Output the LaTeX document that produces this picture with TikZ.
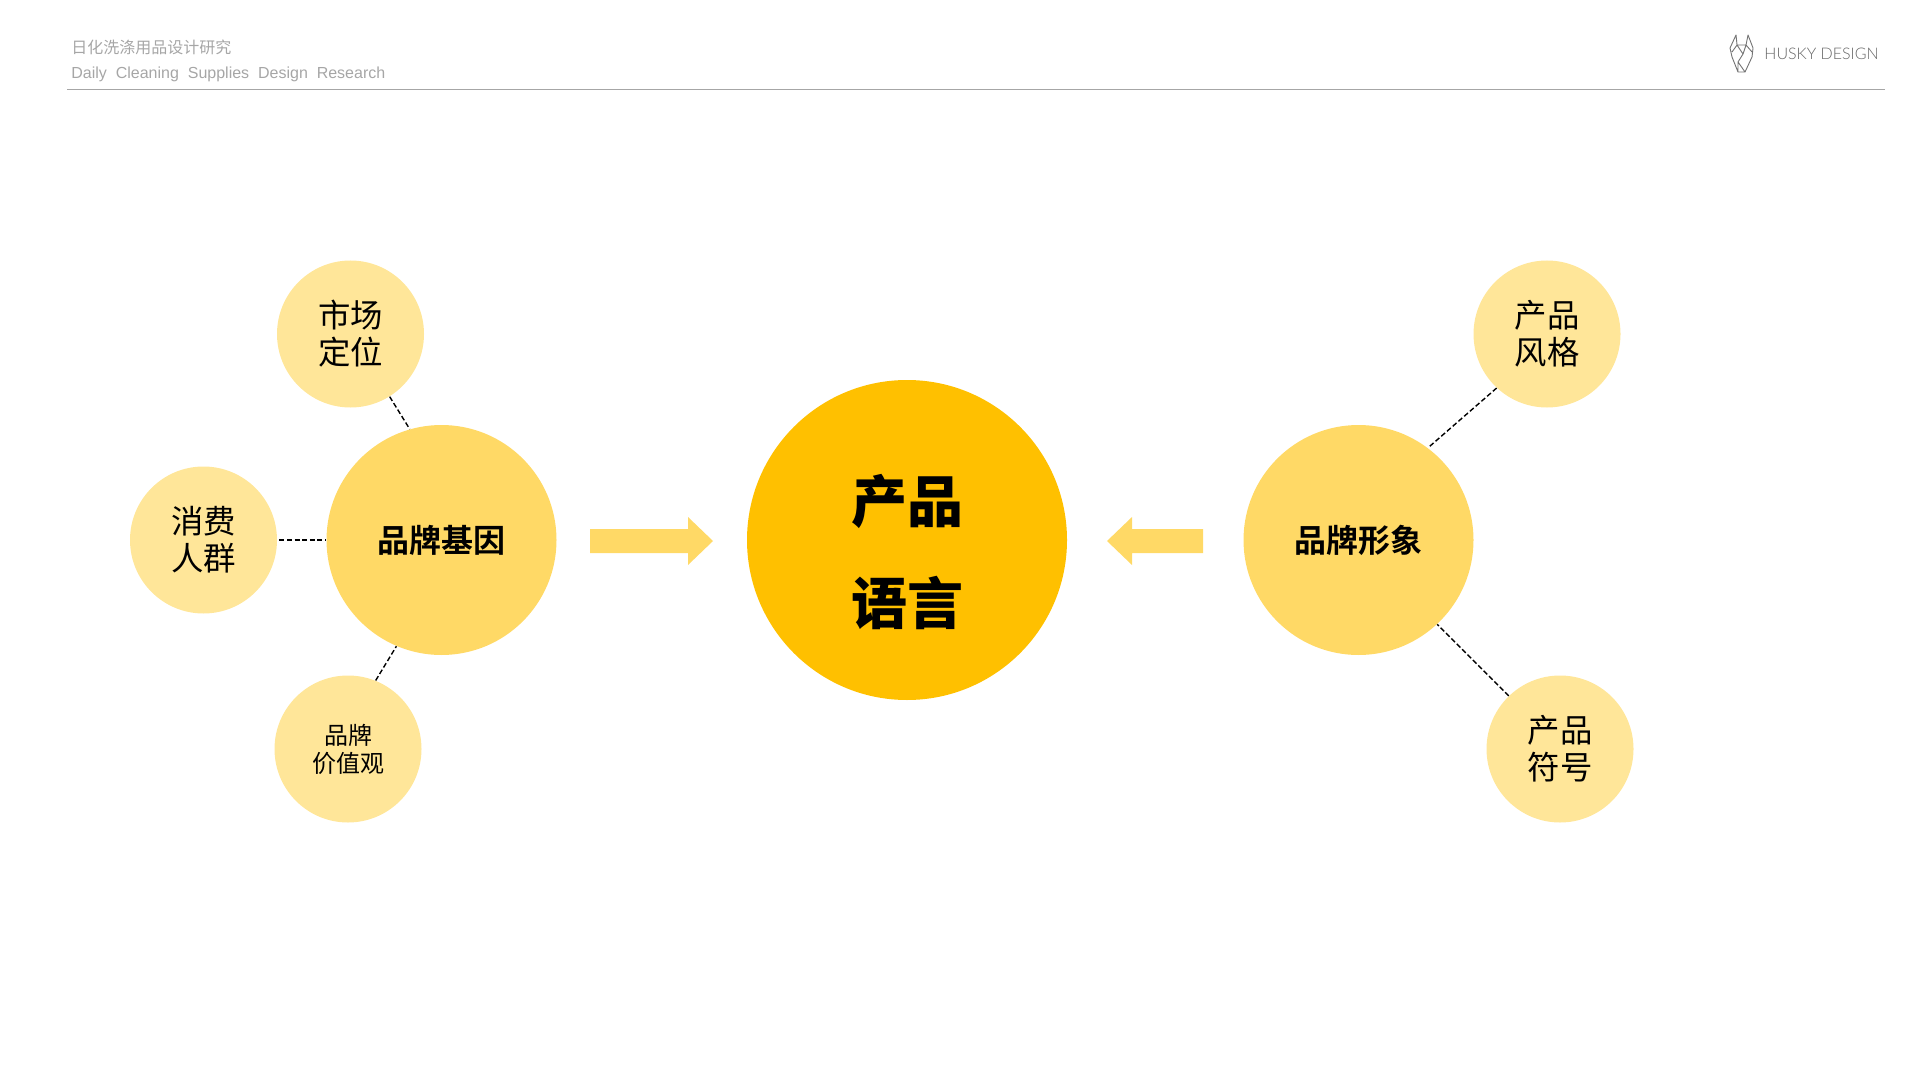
\documentclass[tikz,border=0pt]{standalone}
\usepackage{fontspec}
\usepackage{xcolor}
\setmainfont{Liberation Sans}
\newfontfamily\cjk[BoldFont={Noto Sans CJK SC Bold}]{Noto Sans CJK SC}
\newfontfamily\cjkheavy{Noto Sans CJK SC Black}
\newfontfamily\logofont{Lato Light}
\definecolor{coreyellow}{HTML}{FFC000}
\definecolor{midyellow}{HTML}{FFD966}
\definecolor{paleyellow}{HTML}{FFE699}
\definecolor{headgrey}{HTML}{A6A6A6}
\tikzset{
  core/.style={circle, fill=coreyellow, minimum size=160pt, inner sep=0, align=center},
  mid/.style={circle, fill=midyellow, minimum size=115pt, inner sep=0, align=center},
  pale/.style={circle, fill=paleyellow, minimum size=73.5pt, inner sep=0, align=center},
  link/.style={draw=black, line width=0.7pt, dash pattern=on 2.5pt off 1.3pt},
  flow/.style={fill=midyellow, draw=none},
  head/.style={text=headgrey, inner sep=0, anchor=west}
}
\begin{document}
\begin{tikzpicture}[x=0.5pt, y=-0.5pt]
  \useasboundingbox (0,0) rectangle (1920,1080);

  % Header
  \node[head, font=\cjk\fontsize{8}{10}\selectfont] (title) at (71,47) {日化洗涤用品设计研究};
  \node[head, font=\fontsize{8}{10}\selectfont] (subtitle) at (71,74) {Daily\ \ Cleaning\ \ Supplies\ \ Design\ \ Research};
  \coordinate (ruleL) at (67,90);
  \coordinate (ruleR) at (1885,90);
  \draw[headgrey, line width=0.5pt] (ruleL) -- (ruleR);

  % Logo
  \draw[black!55, line width=0.45pt, line join=round]
    (1736,35) -- (1730,48) -- (1732,57) -- (1738,72) -- (1745,72) -- (1752,57) -- (1753,48) -- (1748,35)
    -- (1746,45) -- (1737,45) -- cycle
    (1732,52) -- (1737,45) -- (1743,54) -- (1746,45) -- (1752,52)
    (1743,54) -- (1738,62) -- (1745,72)
    (1738,62) -- (1738,72);
  \node[head, text=black!60, font=\logofont\fontsize{8}{10}\selectfont] (logotext) at (1764,54) {HUSKY DESIGN};

  % Circles
  \node[core] (language) at (907,540) {};
  \node[align=center, inner sep=0, font=\cjkheavy\fontsize{28}{51}\selectfont] (languagetext) at (907,552) {产品\\语言};
  \node[mid, font=\cjk\bfseries\fontsize{16}{20}\selectfont] (gene) at (441.5,540) {品牌基因};
  \node[mid, font=\cjk\bfseries\fontsize{16}{20}\selectfont] (image) at (1358.5,540) {品牌形象};
  \node[pale, font=\cjk\fontsize{16.2}{18.5}\selectfont] (market) at (350.5,334) {市场\\定位};
  \node[pale, font=\cjk\fontsize{16.2}{18.5}\selectfont] (people) at (203.5,540) {消费\\人群};
  \node[pale, font=\cjk\fontsize{12}{14}\selectfont] (value) at (348,749) {品牌\\价值观};
  \node[pale, font=\cjk\fontsize{16.2}{18.5}\selectfont] (style) at (1547,334) {产品\\风格};
  \node[pale, font=\cjk\fontsize{16.2}{18.5}\selectfont] (symbol) at (1560,749) {产品\\符号};

  % Dashed links
  \draw[link] (market.-58) -- (gene.106);
  \draw[link, shorten <=1pt] (people.east) -- (gene.west);
  \draw[link] (value.68) -- (gene.247);
  \draw[link] (style.227) -- (image.53);
  \draw[link] (symbol.134) -- (image.-47);

  % Arrows
  \fill[flow] (590,529) -- (688,529) -- (688,517) -- (713,541) -- (688,565) -- (688,553) -- (590,553) -- cycle;
  \fill[flow] (1203,529) -- (1132,529) -- (1132,517) -- (1107,541) -- (1132,565) -- (1132,553) -- (1203,553) -- cycle;
\end{tikzpicture}
\end{document}
